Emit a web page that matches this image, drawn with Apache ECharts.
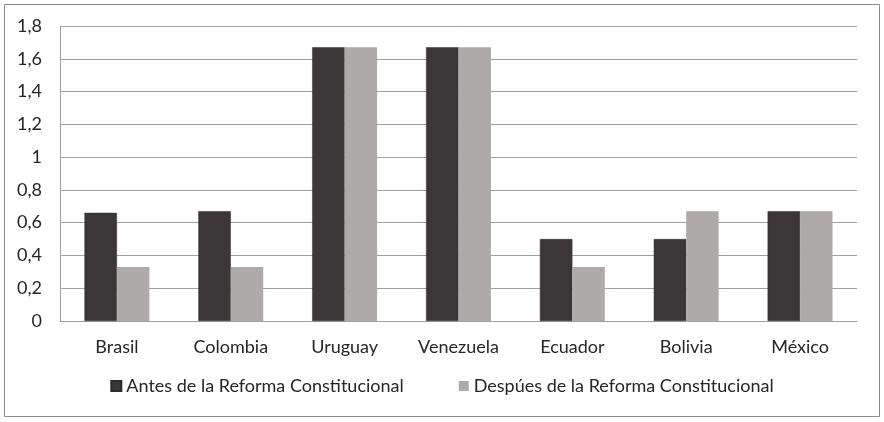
<!DOCTYPE html>
<html>
<head>
<meta charset="utf-8">
<script src="https://cdn.jsdelivr.net/npm/echarts@6/dist/echarts.min.js"></script>
<style>
  html, body { margin: 0; padding: 0; background: #fff; }
  #chart { width: 884px; height: 422px; }
</style>
</head>
<body>
<div id="chart"></div>
<script>
  // datos
  const paises = ['Brasil', 'Colombia', 'Uruguay', 'Venezuela', 'Ecuador', 'Bolivia', 'México'];
  const antes = [0.66, 0.67, 1.67, 1.67, 0.5, 0.5, 0.67];
  const despues = [0.33, 0.33, 1.67, 1.67, 0.33, 0.67, 0.67];
  const nombreAntes = 'Antes de la Reforma Constitucional';
  const nombreDespues = 'Despúes de la Reforma Constitucional';

  const fuente = 'Lato';
  const myChart = echarts.init(document.getElementById('chart'));
  const option = {
    animation: false,
    textStyle: { fontFamily: fuente },
    graphic: [{
      type: 'rect',
      shape: { x: 4.5, y: 4.5, width: 875, height: 412 },
      style: { fill: 'none', stroke: '#8c8c8c', lineWidth: 1 }
    }],
    grid: { left: 60, right: 27, top: 26, bottom: 101 },
    legend: {
      bottom: 22,
      left: 'center',
      itemWidth: 10,
      itemHeight: 10,
      itemGap: 55,
      icon: 'rect',
      textStyle: { fontFamily: fuente, fontSize: 18, color: '#262626' },
      data: [nombreAntes, nombreDespues]
    },
    xAxis: {
      type: 'category',
      data: paises,
      axisLine: { lineStyle: { color: '#a0a0a0' } },
      axisTick: { show: false },
      axisLabel: { fontFamily: fuente, fontSize: 18, color: '#262626', margin: 17 }
    },
    yAxis: {
      type: 'value',
      min: 0,
      max: 1.8,
      interval: 0.2,
      axisLine: { show: true, lineStyle: { color: '#a0a0a0' } },
      axisTick: { show: false },
      splitLine: { lineStyle: { color: '#a0a0a0' } },
      axisLabel: {
        fontFamily: fuente, fontSize: 18, color: '#262626', margin: 18,
        formatter: function (v) { return String(Math.round(v * 10) / 10).replace('.', ','); }
      }
    },
    series: [
      {
        name: nombreAntes,
        type: 'bar',
        data: antes,
        barGap: '0%',
        barCategoryGap: '43%',
        itemStyle: { color: '#3b3738', borderColor: '#2e2b2c', borderWidth: 0.5 }
      },
      {
        name: nombreDespues,
        type: 'bar',
        data: despues,
        itemStyle: { color: '#aeaaaa' }
      }
    ]
  };
  myChart.setOption(option);
</script>
</body>
</html>
